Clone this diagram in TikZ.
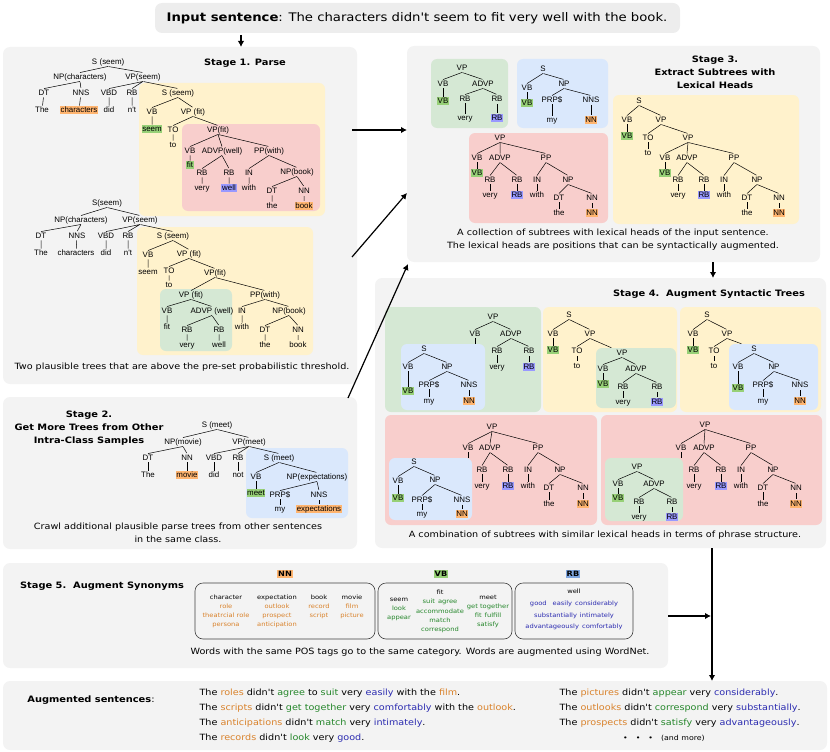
\documentclass[tikz,border=0pt]{standalone}
\usepackage{fontspec}
\setmainfont{DejaVu Sans}[FakeStretch=1.12, Ligatures=TeXOff]
\newfontfamily\arialf{Liberation Sans}[Ligatures=TeXOff]
\usetikzlibrary{arrows.meta}
\definecolor{bggray}{HTML}{F3F3F3}
\definecolor{inbox}{HTML}{EDEDED}
\definecolor{ylw}{HTML}{FFF2CC}
\definecolor{pnk}{HTML}{F8CECC}
\definecolor{grn}{HTML}{D5E8D4}
\definecolor{blu}{HTML}{DAE8FC}
\definecolor{hlor}{HTML}{FFB570}
\definecolor{hlgr}{HTML}{97D077}
\definecolor{hlbl}{HTML}{9999FF}
\definecolor{hlrb}{HTML}{7EA6E0}
\definecolor{txor}{HTML}{D9822B}
\definecolor{txgr}{HTML}{24862A}
\definecolor{txbl}{HTML}{2B2BB0}
\newcommand\tlab{\arialf\fontsize{7.9}{8}\selectfont}
\newcommand\sor[1]{\textcolor{txor}{#1}}
\newcommand\sgr[1]{\textcolor{txgr}{#1}}
\newcommand\sbl[1]{\textcolor{txbl}{#1}}
\tikzset{
  t/.style={font=\tlab, inner sep=0.7pt, text height=5.6pt, text depth=1.5pt},
  hor/.style={t, fill=hlor},
  hgr/.style={t, fill=hlgr},
  hbl/.style={t, fill=hlbl},
  tl/.style={line width=0.5pt, shorten <=0.6pt, shorten >=0.6pt},
  panel/.style={fill=bggray, rounded corners=7pt},
  ybox/.style={fill=ylw, rounded corners=6pt},
  rbox/.style={fill=pnk, rounded corners=6pt},
  gbox/.style={fill=grn, rounded corners=6pt},
  bbox/.style={fill=blu, rounded corners=6pt},
  captxt/.style={font=\fontsize{8.6}{13}\selectfont, align=center},
  ttl/.style={font=\bfseries\fontsize{8.8}{13}\selectfont, align=center},
  syn/.style={font=\fontsize{6}{9}\selectfont, align=center},
  synbox/.style={draw=black!75, line width=0.6pt, rounded corners=8pt},
  arr/.style={line width=1.2pt, -{Latex[length=6pt,width=6.5pt]}}
}
\begin{document}
\begin{tikzpicture}[x=1pt,y=-1pt]
\useasboundingbox (0,0) rectangle (830,752);
\fill[panel, fill=inbox] (155,3) rectangle (680,33);
\fill[panel] (3,47) rectangle (357,384);
\fill[panel] (3,397) rectangle (357,549);
\fill[panel] (407,46) rectangle (820,262);
\fill[panel] (375,278) rectangle (826,548);
\fill[panel] (3,563) rectangle (668,668);
\fill[panel] (3,681) rectangle (827,750);
\fill[ybox] (139,83) rectangle (325,216);
\fill[rbox] (182,124) rectangle (320,211);
\fill[ybox] (137,227) rectangle (313,355);
\fill[gbox] (160,289) rectangle (232,351);
\fill[bbox] (246,448) rectangle (348,518);
\fill[gbox] (431,59) rectangle (508,128);
\fill[bbox] (517,59) rectangle (608,128);
\fill[rbox] (469,133) rectangle (608,223);
\fill[ybox] (613,95) rectangle (799,224);
\fill[gbox] (385,307) rectangle (541,412);
\fill[bbox] (401,344) rectangle (485,410);
\fill[ybox] (543,307) rectangle (677,412);
\fill[gbox] (596,348) rectangle (676,408);
\fill[ybox] (680,307) rectangle (821,412);
\fill[bbox] (729,344) rectangle (818,410);
\fill[rbox] (385,415) rectangle (597,525);
\fill[bbox] (389,458) rectangle (472,520);
\fill[rbox] (601,415) rectangle (822,525);
\fill[gbox] (605,458) rectangle (683,521);

\node[font=\fontsize{11.8}{13}\selectfont] (inp) at (417,18) {\textbf{Input sentence}: The characters didn't seem to fit very well with the book.};
\node[ttl] (t1) at (245,63) {Stage 1. Parse};
\node[ttl] (t2) at (89,428) {Stage 2.\\Get More Trees from Other\\Intra-Class Samples};
\node[ttl] (t3) at (715,72) {Stage 3.\\Extract Subtrees with\\Lexical Heads};
\node[ttl] (t4) at (709,294) {Stage 4.\ \ Augment Syntactic Trees};
\node[ttl] (t5) at (102,586) {Stage 5.\ \ Augment Synonyms};
\node[captxt] (c1) at (182,367) {Two plausible trees that are above the pre-set probabilistic threshold.};
\node[captxt] (c2) at (178,533) {Crawl additional plausible parse trees from other sentences\\in the same class.};
\node[captxt] (c3) at (613,240) {A collection of subtrees with lexical heads of the input sentence.\\The lexical heads are positions that can be syntactically augmented.};
\node[captxt] (c4) at (605,535) {A combination of subtrees with similar lexical heads in terms of phrase structure.};
\node[captxt] (c5) at (420,652) {Words with the same POS tags go to the same category. Words are augmented using WordNet.};

\node[t] (aS) at (108,62) {S\,\,(seem)};
\node[t] (aNP) at (80,77) {NP(characters)};
\node[t] (aVP) at (143,77) {VP(seem)};
\node[t] (aDT) at (44,93) {DT};
\node[t] (aNNS) at (81,93) {NNS};
\node[t] (aVBD) at (109,93) {VBD};
\node[t] (aRB) at (132,93) {RB};
\node[t] (aS2) at (178,93) {S (seem)};
\node[t] (aw1) at (42,110) {The};
\node[hor] (aw2) at (79,110) {characters};
\node[t] (aw3) at (109,110) {did};
\node[t] (aw4) at (132,110) {n't};
\node[t] (aVB) at (152,112) {VB};
\node[t] (aVP2) at (193,112) {VP (fit)};
\node[hgr] (aw5) at (152,129) {seem};
\node[t] (aTO) at (173,130) {TO};
\node[t] (aVP3) at (218,130) {VP(fit)};
\node[t] (aw6) at (173,145) {to};
\node[t] (aVB2) at (190,151) {VB};
\node[t] (aADVP) at (222,151) {ADVP(well)};
\node[t] (aPP) at (269,151) {PP(with)};
\node[hgr] (aw7) at (190,165) {fit};
\node[t] (aRB2) at (202,173) {RB};
\node[t] (aRB3) at (229,173) {RB};
\node[t] (aIN) at (249,173) {IN};
\node[t] (aNP2) at (297,172) {NP(book)};
\node[t] (aw8) at (202,188) {very};
\node[hbl] (aw9) at (229,188) {well};
\node[t] (aw10) at (249,188) {with};
\node[t] (aDT2) at (272,191) {DT};
\node[t] (aNN) at (304,191) {NN};
\node[t] (aw11) at (272,206) {the};
\node[hor] (aw12) at (304,206) {book};
\draw[tl] (aS.south) -- (aNP.north) (aS.south) -- (aVP.north);
\draw[tl] (aNP.south) -- (aDT.north) (aNP.south) -- (aNNS.north);
\draw[tl] (aVP.south) -- (aVBD.north) (aVP.south) -- (aRB.north) (aVP.south) -- (aS2.north);
\draw[tl] (aS2.south) -- (aVB.north) (aS2.south) -- (aVP2.north);
\draw[tl] (aVP2.south) -- (aTO.north) (aVP2.south) -- (aVP3.north);
\draw[tl] (aVP3.south) -- (aVB2.north) (aVP3.south) -- (aADVP.north) (aVP3.south) -- (aPP.north);
\draw[tl] (aADVP.south) -- (aRB2.north) (aADVP.south) -- (aRB3.north);
\draw[tl] (aPP.south) -- (aIN.north) (aPP.south) -- (aNP2.north);
\draw[tl] (aNP2.south) -- (aDT2.north) (aNP2.south) -- (aNN.north);
\draw[tl] (aDT) -- (aw1) (aNNS) -- (aw2) (aVBD) -- (aw3) (aRB) -- (aw4) (aVB) -- (aw5) (aTO) -- (aw6)
  (aVB2) -- (aw7) (aRB2) -- (aw8) (aRB3) -- (aw9) (aIN) -- (aw10) (aDT2) -- (aw11) (aNN) -- (aw12);

\node[t] (bS) at (107,203) {S(seem)};
\node[t] (bNP) at (81,220) {NP(characters)};
\node[t] (bVP) at (140,220) {VP(seem)};
\node[t] (bDT) at (41,236) {DT};
\node[t] (bNNS) at (77,236) {NNS};
\node[t] (bVBD) at (106,236) {VBD};
\node[t] (bRB) at (128,236) {RB};
\node[t] (bS2) at (173,236) {S (seem)};
\node[t] (bw1) at (41,253) {The};
\node[t] (bw2) at (76,253) {characters};
\node[t] (bw3) at (106,253) {did};
\node[t] (bw4) at (128,253) {n't};
\node[t] (bVB) at (148,255) {VB};
\node[t] (bVP2) at (189,254) {VP (fit)};
\node[t] (bw5) at (148,272) {seem};
\node[t] (bTO) at (169,271) {TO};
\node[t] (bVP3) at (215,273) {VP(fit)};
\node[t] (bw6) at (169,285) {to};
\node[t] (bVP4) at (191,295) {VP (fit)};
\node[t] (bPP) at (265,295) {PP(with)};
\node[t] (bVB2) at (167,311) {VB};
\node[t] (bADVP) at (212,311) {ADVP (well)};
\node[t] (bIN) at (242,311) {IN};
\node[t] (bNP2) at (289,311) {NP(book)};
\node[t] (bw7) at (167,327) {fit};
\node[t] (bw8) at (242,327) {with};
\node[t] (bRB2) at (187,330) {RB};
\node[t] (bRB3) at (219,330) {RB};
\node[t] (bDT2) at (265,330) {DT};
\node[t] (bNN) at (298,330) {NN};
\node[t] (bw9) at (187,345) {very};
\node[t] (bw10) at (219,345) {well};
\node[t] (bw11) at (265,345) {the};
\node[t] (bw12) at (298,345) {book};
\draw[tl] (bS.south) -- (bNP.north) (bS.south) -- (bVP.north);
\draw[tl] (bNP.south) -- (bDT.north) (bNP.south) -- (bNNS.north);
\draw[tl] (bVP.south) -- (bVBD.north) (bVP.south) -- (bRB.north) (bVP.south) -- (bS2.north);
\draw[tl] (bS2.south) -- (bVB.north) (bS2.south) -- (bVP2.north);
\draw[tl] (bVP2.south) -- (bTO.north) (bVP2.south) -- (bVP3.north);
\draw[tl] (bVP3.south) -- (bVP4.north) (bVP3.south) -- (bPP.north);
\draw[tl] (bVP4.south) -- (bVB2.north) (bVP4.south) -- (bADVP.north);
\draw[tl] (bADVP.south) -- (bRB2.north) (bADVP.south) -- (bRB3.north);
\draw[tl] (bPP.south) -- (bIN.north) (bPP.south) -- (bNP2.north);
\draw[tl] (bNP2.south) -- (bDT2.north) (bNP2.south) -- (bNN.north);
\draw[tl] (bDT) -- (bw1) (bNNS) -- (bw2) (bVBD) -- (bw3) (bRB) -- (bw4) (bVB) -- (bw5) (bTO) -- (bw6)
  (bVB2) -- (bw7) (bIN) -- (bw8) (bRB2) -- (bw9) (bRB3) -- (bw10) (bDT2) -- (bw11) (bNN) -- (bw12);

\node[t] (cS) at (217,425) {S (meet)};
\node[t] (cNP) at (183,442) {NP(movie)};
\node[t] (cVP) at (249,442) {VP(meet)};
\node[t] (cDT) at (148,458) {DT};
\node[t] (cNN) at (187,458) {NN};
\node[t] (cVBD) at (214,458) {VBD};
\node[t] (cRB) at (238,458) {RB};
\node[t] (cS2) at (279,458) {S (meet)};
\node[t] (cw1) at (148,475) {The};
\node[hor] (cw2) at (187,475) {movie};
\node[t] (cw3) at (214,475) {did};
\node[t] (cw4) at (238,475) {not};
\node[t] (cVB) at (256,477) {VB};
\node[t] (cNP2) at (317,477) {NP(expectations)};
\node[hgr] (cw5) at (256,493) {meet};
\node[t] (cPRP) at (280,495) {PRP\$};
\node[t] (cNNS) at (319,495) {NNS};
\node[t] (cw6) at (280,509) {my};
\node[hor] (cw7) at (319,509) {expectations};
\draw[tl] (cS.south) -- (cNP.north) (cS.south) -- (cVP.north);
\draw[tl] (cNP.south) -- (cDT.north) (cNP.south) -- (cNN.north);
\draw[tl] (cVP.south) -- (cVBD.north) (cVP.south) -- (cRB.north) (cVP.south) -- (cS2.north);
\draw[tl] (cS2.south) -- (cVB.north) (cS2.south) -- (cNP2.north);
\draw[tl] (cNP2.south) -- (cPRP.north) (cNP2.south) -- (cNNS.north);
\draw[tl] (cDT) -- (cw1) (cNN) -- (cw2) (cVBD) -- (cw3) (cRB) -- (cw4) (cVB) -- (cw5) (cPRP) -- (cw6) (cNNS) -- (cw7);

\node[t] (dgVP) at (462,68) {VP};
\node[t] (dgVB) at (443,84) {VB};
\node[t] (dgADVP) at (483,84) {ADVP};
\node[hgr] (dgw1) at (443,101) {VB};
\node[t] (dgRB) at (465,99) {RB};
\node[t] (dgRB2) at (497,99) {RB};
\node[t] (dgw2) at (465,118) {very};
\node[hbl] (dgw3) at (497,118) {RB};
\draw[tl] (dgVP.south) -- (dgVB.north) (dgVP.south) -- (dgADVP.north);
\draw[tl] (dgADVP.south) -- (dgRB.north) (dgADVP.south) -- (dgRB2.north);
\draw[tl] (dgVB) -- (dgw1) (dgRB) -- (dgw2) (dgRB2) -- (dgw3);

\node[t] (dbS) at (543,69) {S};
\node[t] (dbVB) at (527,88) {VB};
\node[t] (dbNP) at (564,84) {NP};
\node[hgr] (dbw1) at (527,103) {VB};
\node[t] (dbPRP) at (552,100) {PRP\$};
\node[t] (dbNNS) at (591,100) {NNS};
\node[t] (dbw2) at (552,120) {my};
\node[hor] (dbw3) at (591,120) {NN};
\draw[tl] (dbS.south) -- (dbVB.north) (dbS.south) -- (dbNP.north);
\draw[tl] (dbNP.south) -- (dbPRP.north) (dbNP.south) -- (dbNNS.north);
\draw[tl] (dbVB) -- (dbw1) (dbPRP) -- (dbw2) (dbNNS) -- (dbw3);

\node[t] (drVP) at (500,138) {VP};
\node[t] (drVB) at (477,158) {VB};
\node[t] (drADVP) at (500,158) {ADVP};
\node[t] (drPP) at (546,158) {PP};
\node[hgr] (drw1) at (477,173) {VB};
\node[t] (drRB) at (490,180) {RB};
\node[t] (drRB2) at (517,180) {RB};
\node[t] (drIN) at (537,180) {IN};
\node[t] (drNP) at (568,180) {NP};
\node[t] (drw2) at (490,195) {very};
\node[hbl] (drw3) at (517,195) {RB};
\node[t] (drw4) at (537,195) {with};
\node[t] (drDT) at (559,198) {DT};
\node[t] (drNN) at (592,198) {NN};
\node[t] (drw5) at (559,213) {the};
\node[hor] (drw6) at (592,213) {NN};
\draw[tl] (drVP.south) -- (drVB.north) (drVP.south) -- (drADVP.north) (drVP.south) -- (drPP.north);
\draw[tl] (drADVP.south) -- (drRB.north) (drADVP.south) -- (drRB2.north);
\draw[tl] (drPP.south) -- (drIN.north) (drPP.south) -- (drNP.north);
\draw[tl] (drNP.south) -- (drDT.north) (drNP.south) -- (drNN.north);
\draw[tl] (drVB) -- (drw1) (drRB) -- (drw2) (drRB2) -- (drw3) (drIN) -- (drw4) (drDT) -- (drw5) (drNN) -- (drw6);

\node[t] (dyS) at (639,101) {S};
\node[t] (dyVB) at (627,120) {VB};
\node[t] (dyVP) at (661,120) {VP};
\node[hgr] (dyw1) at (627,136) {VB};
\node[t] (dyTO) at (648,138) {TO};
\node[t] (dyVP2) at (688,138) {VP};
\node[t] (dyw2) at (648,153) {to};
\node[t] (dyVB2) at (665,158) {VB};
\node[t] (dyADVP) at (687,158) {ADVP};
\node[t] (dyPP) at (734,158) {PP};
\node[hgr] (dyw3) at (665,173) {VB};
\node[t] (dyRB) at (678,180) {RB};
\node[t] (dyRB2) at (704,180) {RB};
\node[t] (dyIN) at (724,180) {IN};
\node[t] (dyNP) at (757,180) {NP};
\node[t] (dyw4) at (678,195) {very};
\node[hbl] (dyw5) at (704,195) {RB};
\node[t] (dyw6) at (724,195) {with};
\node[t] (dyDT) at (747,198) {DT};
\node[t] (dyNN) at (779,198) {NN};
\node[t] (dyw7) at (747,213) {the};
\node[hor] (dyw8) at (779,213) {NN};
\draw[tl] (dyS.south) -- (dyVB.north) (dyS.south) -- (dyVP.north);
\draw[tl] (dyVP.south) -- (dyTO.north) (dyVP.south) -- (dyVP2.north);
\draw[tl] (dyVP2.south) -- (dyVB2.north) (dyVP2.south) -- (dyADVP.north) (dyVP2.south) -- (dyPP.north);
\draw[tl] (dyADVP.south) -- (dyRB.north) (dyADVP.south) -- (dyRB2.north);
\draw[tl] (dyPP.south) -- (dyIN.north) (dyPP.south) -- (dyNP.north);
\draw[tl] (dyNP.south) -- (dyDT.north) (dyNP.south) -- (dyNN.north);
\draw[tl] (dyVB) -- (dyw1) (dyTO) -- (dyw2) (dyVB2) -- (dyw3) (dyRB) -- (dyw4) (dyRB2) -- (dyw5)
  (dyIN) -- (dyw6) (dyDT) -- (dyw7) (dyNN) -- (dyw8);

\node[t] (e1VP) at (493,317) {VP};
\node[t] (e1VB) at (475,334) {VB};
\node[t] (e1ADVP) at (511,334) {ADVP};
\coordinate (e1j) at (475,344);
\node[t] (e1RB) at (497,351) {RB};
\node[t] (e1RB2) at (529,351) {RB};
\node[t] (e1w1) at (497,367) {very};
\node[hbl] (e1w2) at (529,367) {RB};
\draw[tl] (e1VP.south) -- (e1VB.north) (e1VP.south) -- (e1ADVP.north);
\draw[tl] (e1ADVP.south) -- (e1RB.north) (e1ADVP.south) -- (e1RB2.north);
\draw[tl] (e1VB.south) -- (e1j) (e1RB) -- (e1w1) (e1RB2) -- (e1w2);
\node[t] (e2S) at (424,349) {S};
\node[t] (e2VB) at (408,367) {VB};
\node[t] (e2NP) at (447,367) {NP};
\node[t] (e2PRP) at (429,385) {PRP\$};
\node[t] (e2NNS) at (469,385) {NNS};
\node[hgr] (e2w1) at (408,391) {VB};
\node[t] (e2w2) at (429,401) {my};
\node[hor] (e2w3) at (469,401) {NN};
\draw[tl] (e2S.south) -- (e2VB.north) (e2S.south) -- (e2NP.north);
\draw[tl] (e2NP.south) -- (e2PRP.north) (e2NP.south) -- (e2NNS.north);
\draw[tl] (e2VB) -- (e2w1) (e2PRP) -- (e2w2) (e2NNS) -- (e2w3);

\node[t] (e3S) at (569,315) {S};
\node[t] (e3VB) at (553,334) {VB};
\node[t] (e3VP) at (590,334) {VP};
\coordinate (e3j) at (612,348);
\node[hgr] (e3w1) at (553,350) {VB};
\node[t] (e3TO) at (577,351) {TO};
\node[t] (e3w2) at (577,366) {to};
\draw[tl] (e3S.south) -- (e3VB.north) (e3S.south) -- (e3VP.north);
\draw[tl] (e3VP.south) -- (e3TO.north) (e3VP.south) -- (e3j);
\draw[tl] (e3VB) -- (e3w1) (e3TO) -- (e3w2);
\node[t] (e4VP) at (622,353) {VP};
\node[t] (e4VB) at (603,369) {VB};
\node[t] (e4ADVP) at (636,369) {ADVP};
\node[hgr] (e4w1) at (603,384) {VB};
\node[t] (e4RB) at (623,387) {RB};
\node[t] (e4RB2) at (657,387) {RB};
\node[t] (e4w2) at (623,402) {very};
\node[hbl] (e4w3) at (657,402) {RB};
\draw[tl] (e4VP.south) -- (e4VB.north) (e4VP.south) -- (e4ADVP.north);
\draw[tl] (e4ADVP.south) -- (e4RB.north) (e4ADVP.south) -- (e4RB2.north);
\draw[tl] (e4VB) -- (e4w1) (e4RB) -- (e4w2) (e4RB2) -- (e4w3);

\node[t] (e5S) at (707,315) {S};
\node[t] (e5VB) at (693,334) {VB};
\node[t] (e5VP) at (727,334) {VP};
\coordinate (e5j) at (742,344);
\node[hgr] (e5w1) at (693,350) {VB};
\node[t] (e5TO) at (714,351) {TO};
\node[t] (e5w2) at (714,366) {to};
\draw[tl] (e5S.south) -- (e5VB.north) (e5S.south) -- (e5VP.north);
\draw[tl] (e5VP.south) -- (e5TO.north) (e5VP.south) -- (e5j);
\draw[tl] (e5VB) -- (e5w1) (e5TO) -- (e5w2);
\node[t] (e6S) at (754,349) {S};
\node[t] (e6VB) at (738,367) {VB};
\node[t] (e6NP) at (774,367) {NP};
\node[t] (e6PRP) at (763,385) {PRP\$};
\node[t] (e6NNS) at (800,385) {NNS};
\node[hgr] (e6w1) at (738,388) {VB};
\node[t] (e6w2) at (763,401) {my};
\node[hor] (e6w3) at (800,401) {NN};
\draw[tl] (e6S.south) -- (e6VB.north) (e6S.south) -- (e6NP.north);
\draw[tl] (e6NP.south) -- (e6PRP.north) (e6NP.south) -- (e6NNS.north);
\draw[tl] (e6VB) -- (e6w1) (e6PRP) -- (e6w2) (e6NNS) -- (e6w3);

\node[t] (e7VP) at (492,427) {VP};
\node[t] (e7VB) at (468,448) {VB};
\node[t] (e7ADVP) at (490,448) {ADVP};
\node[t] (e7PP) at (538,448) {PP};
\coordinate (e7j) at (468,458);
\node[t] (e7RB) at (482,470) {RB};
\node[t] (e7RB2) at (508,470) {RB};
\node[t] (e7IN) at (528,470) {IN};
\node[t] (e7NP) at (560,470) {NP};
\node[t] (e7w1) at (482,486) {very};
\node[hbl] (e7w2) at (508,486) {RB};
\node[t] (e7w3) at (528,486) {with};
\node[t] (e7DT) at (549,488) {DT};
\node[t] (e7NN) at (583,488) {NN};
\node[t] (e7w4) at (549,504) {the};
\node[hor] (e7w5) at (583,504) {NN};
\draw[tl] (e7VP.south) -- (e7VB.north) (e7VP.south) -- (e7ADVP.north) (e7VP.south) -- (e7PP.north);
\draw[tl] (e7ADVP.south) -- (e7RB.north) (e7ADVP.south) -- (e7RB2.north);
\draw[tl] (e7PP.south) -- (e7IN.north) (e7PP.south) -- (e7NP.north);
\draw[tl] (e7NP.south) -- (e7DT.north) (e7NP.south) -- (e7NN.north);
\draw[tl] (e7VB.south) -- (e7j) (e7RB) -- (e7w1) (e7RB2) -- (e7w2) (e7IN) -- (e7w3) (e7DT) -- (e7w4) (e7NN) -- (e7w5);
\node[t] (e8S) at (414,462) {S};
\node[t] (e8VB) at (398,481) {VB};
\node[t] (e8NP) at (435,480) {NP};
\node[hgr] (e8w1) at (398,498) {VB};
\node[t] (e8PRP) at (422,500) {PRP\$};
\node[t] (e8NNS) at (462,500) {NNS};
\node[t] (e8w2) at (422,514) {my};
\node[hor] (e8w3) at (462,514) {NN};
\draw[tl] (e8S.south) -- (e8VB.north) (e8S.south) -- (e8NP.north);
\draw[tl] (e8NP.south) -- (e8PRP.north) (e8NP.south) -- (e8NNS.north);
\draw[tl] (e8VB) -- (e8w1) (e8PRP) -- (e8w2) (e8NNS) -- (e8w3);

\node[t] (e9VP) at (705,425) {VP};
\node[t] (e9VB) at (681,448) {VB};
\node[t] (e9ADVP) at (704,448) {ADVP};
\node[t] (e9PP) at (751,448) {PP};
\coordinate (e9j) at (681,458);
\node[t] (e9RB) at (694,470) {RB};
\node[t] (e9RB2) at (721,470) {RB};
\node[t] (e9IN) at (741,470) {IN};
\node[t] (e9NP) at (773,470) {NP};
\node[t] (e9w1) at (694,486) {very};
\node[hbl] (e9w2) at (721,486) {RB};
\node[t] (e9w3) at (741,486) {with};
\node[t] (e9DT) at (763,488) {DT};
\node[t] (e9NN) at (796,488) {NN};
\node[t] (e9w4) at (763,504) {the};
\node[hor] (e9w5) at (796,504) {NN};
\draw[tl] (e9VP.south) -- (e9VB.north) (e9VP.south) -- (e9ADVP.north) (e9VP.south) -- (e9PP.north);
\draw[tl] (e9ADVP.south) -- (e9RB.north) (e9ADVP.south) -- (e9RB2.north);
\draw[tl] (e9PP.south) -- (e9IN.north) (e9PP.south) -- (e9NP.north);
\draw[tl] (e9NP.south) -- (e9DT.north) (e9NP.south) -- (e9NN.north);
\draw[tl] (e9VB.south) -- (e9j) (e9RB) -- (e9w1) (e9RB2) -- (e9w2) (e9IN) -- (e9w3) (e9DT) -- (e9w4) (e9NN) -- (e9w5);
\node[t] (e10VP) at (637,467) {VP};
\node[t] (e10VB) at (618,484) {VB};
\node[t] (e10ADVP) at (654,484) {ADVP};
\node[hgr] (e10w1) at (618,498) {VB};
\node[t] (e10RB) at (639,502) {RB};
\node[t] (e10RB2) at (672,502) {RB};
\node[t] (e10w2) at (639,517) {very};
\node[hbl] (e10w3) at (672,517) {RB};
\draw[tl] (e10VP.south) -- (e10VB.north) (e10VP.south) -- (e10ADVP.north);
\draw[tl] (e10ADVP.south) -- (e10RB.north) (e10ADVP.south) -- (e10RB2.north);
\draw[tl] (e10VB) -- (e10w1) (e10RB) -- (e10w2) (e10RB2) -- (e10w3);

\draw[synbox] (195,583) rectangle (375,639);
\draw[synbox] (378,583) rectangle (512,639);
\draw[synbox] (515,583) rectangle (633,639);
\node[font=\bfseries\fontsize{7.3}{9}\selectfont, fill=hlor, inner sep=1.2pt] (lnn) at (285,574) {NN};
\node[font=\bfseries\fontsize{7.3}{9}\selectfont, fill=hlgr, inner sep=1.2pt] (lvb) at (441,574) {VB};
\node[font=\bfseries\fontsize{7.3}{9}\selectfont, fill=hlrb, inner sep=1.2pt] (lrb) at (573,574) {RB};
\node[syn] (n1) at (226,611.5) {character\\\sor{role}\\\sor{theatrcial role}\\\sor{persona}};
\node[syn] (n2) at (277,611.5) {expectation\\\sor{outlook}\\\sor{prospect}\\\sor{anticipation}};
\node[syn] (n3) at (319,607) {book\\\sor{record}\\\sor{script}};
\node[syn] (n4) at (352,607) {movie\\\sor{film}\\\sor{picture}};
\node[syn] (v1) at (399,609) {seem\\\sgr{look}\\\sgr{appear}};
\node[syn, font=\fontsize{6}{9.25}\selectfont] (v2) at (440,611.5) {fit\\\sgr{suit\enspace agree}\\\sgr{accommodate}\\\sgr{match}\\\sgr{correspond}};
\node[syn] (v3) at (488,611.5) {meet\\\sgr{get together}\\\sgr{fit\enspace fulfill}\\\sgr{satisfy}};
\node[syn, font=\fontsize{6}{11.7}\selectfont] (r1) at (574,609.5) {well\\\sbl{good\enspace\enspace easily\enspace considerably}\\\sbl{substantially\enspace intimately}\\\sbl{advantageously\enspace comfortably}};

\node[font=\fontsize{8.8}{10}\selectfont] (aug) at (91,700) {\textbf{Augmented sentences}:};
\node[anchor=west, align=left, font=\fontsize{8.6}{15}\selectfont] (s1) at (196,715.5) {The \sor{roles} didn't \sgr{agree} to \sgr{suit} very \sbl{easily} with the \sor{film}.\\The \sor{scripts} didn't \sgr{get together} very \sbl{comfortably} with the \sor{outlook}.\\The \sor{anticipations} didn't \sgr{match} very \sbl{intimately}.\\The \sor{records} didn't \sgr{look} very \sbl{good}.};
\node[anchor=west, align=left, font=\fontsize{8.6}{15}\selectfont] (s2) at (556,708) {The \sor{pictures} didn't \sgr{appear} very \sbl{considerably}.\\The \sor{outlooks} didn't \sgr{correspond} very \sbl{substantially}.\\The \sor{prospects} didn't \sgr{satisfy} very \sbl{advantageously}.};
\node[font=\fontsize{7}{9}\selectfont] (more) at (664,738) {•\hspace{8pt}•\hspace{8pt}•\hspace{8pt}(and more)};

\coordinate (a0) at (241,35); \coordinate (a1) at (241,47);
\coordinate (b0) at (352,130); \coordinate (b1) at (407,130);
\coordinate (g0) at (352,257); \coordinate (g1) at (407,193);
\coordinate (h0) at (348,398); \coordinate (h1) at (408,264);
\coordinate (k0) at (713,262); \coordinate (k1) at (713,278);
\coordinate (m0) at (712,548); \coordinate (m1) at (712,681);
\coordinate (q0) at (668,616); \coordinate (q1) at (711,616);
\draw[arr] (a0) -- (a1);
\draw[arr] (b0) -- (b1);
\draw[arr] (g0) -- (g1);
\draw[arr] (h0) -- (h1);
\draw[arr] (k0) -- (k1);
\draw[arr] (m0) -- (m1);
\draw[arr] (q0) -- (q1);
\end{tikzpicture}
\end{document}
